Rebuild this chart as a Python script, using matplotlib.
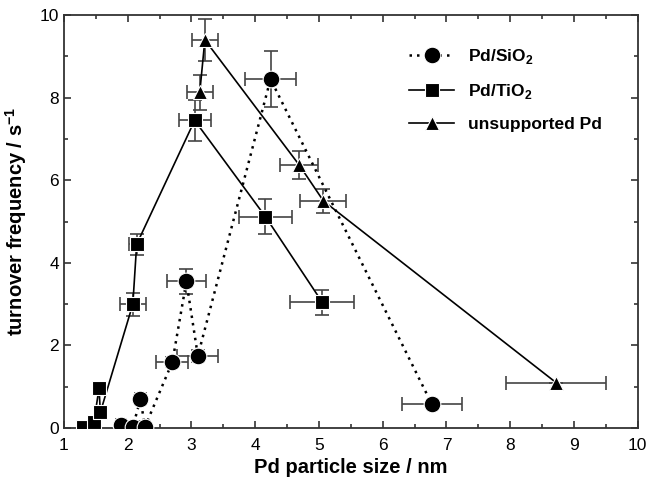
import numpy as np
import matplotlib
matplotlib.use("Agg")
import matplotlib.pyplot as plt
from matplotlib.ticker import MultipleLocator

plt.rcParams["font.family"] = ["Liberation Sans", "DejaVu Sans"]
plt.rcParams["mathtext.fontset"] = "custom"
plt.rcParams["mathtext.rm"] = "Liberation Sans"
plt.rcParams["mathtext.bf"] = "Liberation Sans:bold"

# Pd/SiO2 (circles, dotted)
sio2_x = [1.90, 2.08, 2.20, 2.27, 2.70, 2.92, 3.10, 4.24, 6.77]
sio2_y = [0.08, 0.03, 0.70, 0.03, 1.60, 3.55, 1.75, 8.45, 0.58]
sio2_xerr = [0.08, 0.08, 0.08, 0.08, 0.25, 0.30, 0.32, 0.40, 0.47]
sio2_yerr = [0.0, 0.0, 0.10, 0.0, 0.12, 0.31, 0.15, 0.68, 0.0]

# Pd/TiO2 (squares, solid)
tio2_x = [1.30, 1.47, 1.55, 1.57, 2.08, 2.14, 3.05, 4.16, 5.05]
tio2_y = [0.03, 0.15, 0.97, 0.38, 3.00, 4.45, 7.45, 5.12, 3.05]
tio2_xerr = [0.0, 0.0, 0.05, 0.0, 0.20, 0.12, 0.25, 0.41, 0.50]
tio2_yerr = [0.0, 0.0, 0.0, 0.0, 0.28, 0.26, 0.50, 0.43, 0.30]

# unsupported Pd (triangles, solid)
unsup_x = [3.13, 3.21, 4.69, 5.07, 8.72]
unsup_y = [8.13, 9.40, 6.37, 5.50, 1.10]
unsup_xerr = [0.20, 0.20, 0.30, 0.36, 0.78]
unsup_yerr = [0.43, 0.50, 0.35, 0.30, 0.0]

fig = plt.figure(figsize=(6.49, 4.87), dpi=100)
ax = fig.add_axes([0.0986, 0.121, 0.884, 0.848])

eb = dict(fmt="none", ecolor="#444444", elinewidth=1.2, capsize=5, capthick=1.2, zorder=2)
ax.errorbar(sio2_x, sio2_y, xerr=sio2_xerr, yerr=sio2_yerr, **eb)
ax.errorbar(tio2_x, tio2_y, xerr=tio2_xerr, yerr=tio2_yerr, **eb)
ax.errorbar(unsup_x, unsup_y, xerr=unsup_xerr, yerr=unsup_yerr, **eb)

ax.plot(sio2_x, sio2_y, color="black", ls=(0, (1, 2)), lw=1.8, marker="o", ms=12,
        mfc="black", mec="white", mew=0.8, zorder=3, label=r"Pd/SiO$_\mathbf{2}$")
ax.plot(tio2_x, tio2_y, color="black", lw=1.2, marker="s", ms=9.5,
        mfc="black", mec="white", mew=0.8, zorder=3, label=r"Pd/TiO$_\mathbf{2}$")
ax.plot(unsup_x, unsup_y, color="black", lw=1.2, marker="^", ms=10,
        mfc="black", mec="white", mew=0.8, zorder=3, label="unsupported Pd")

ax.set_xlim(1, 10)
ax.set_ylim(0, 10)
ax.xaxis.set_major_locator(MultipleLocator(1))
ax.xaxis.set_minor_locator(MultipleLocator(0.5))
ax.yaxis.set_major_locator(MultipleLocator(2))
ax.yaxis.set_minor_locator(MultipleLocator(1))
ax.tick_params(which="both", direction="in", top=True, right=True, width=1.2,
               labelsize=12.5, color="#333333")
ax.tick_params(which="major", length=5)
ax.tick_params(which="minor", length=3)
ax.tick_params(axis="x", pad=7)
for s in ax.spines.values():
    s.set_linewidth(1.3)
    s.set_color("#333333")

ax.set_xlabel("Pd particle size / nm", fontsize=14.5, fontweight="bold", labelpad=4)
ax.set_ylabel(r"turnover frequency / s$^\mathbf{-1}$", fontsize=14.5, fontweight="bold", labelpad=8)

leg = ax.legend(loc="upper right", bbox_to_anchor=(0.965, 0.96), frameon=False,
                prop={"weight": "bold", "size": 12.5}, handlelength=2.6,
                labelspacing=0.9, handletextpad=0.8)

fig.savefig("out.png", dpi=100)
